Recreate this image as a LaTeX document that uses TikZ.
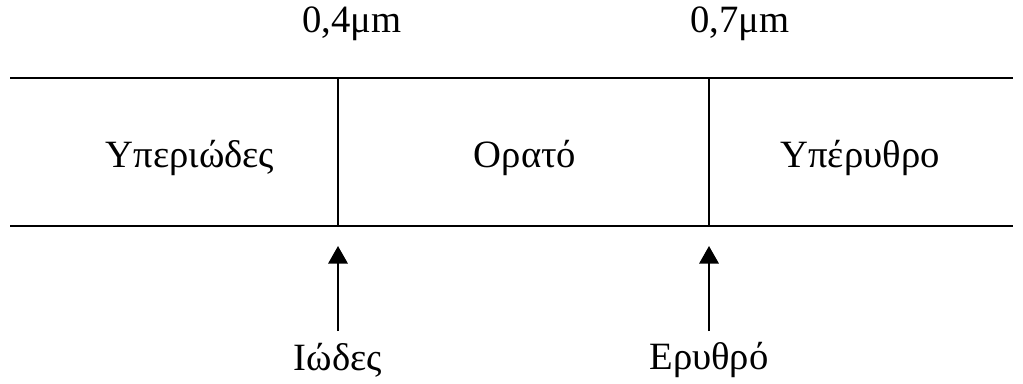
\documentclass[tikz,border=0pt]{standalone}
\usepackage{fontspec}
\setmainfont{Liberation Serif}
\usetikzlibrary{arrows.meta}
\begin{document}
\begin{tikzpicture}[x=0.02cm, y=-0.02cm, every node/.style={font=\fontsize{22}{26}\selectfont, inner sep=0pt}]
  \useasboundingbox (0, 0) rectangle (1023, 383);
  % band edges
  \coordinate (tl) at (10, 78);
  \coordinate (tr) at (1013, 78);
  \coordinate (bl) at (10, 226);
  \coordinate (br) at (1013, 226);
  \draw[line width=1.4pt] (tl) -- (tr);
  \draw[line width=1.4pt] (bl) -- (br);

  % limits of the visible band
  \coordinate (vtop) at (338, 78);
  \coordinate (vbot) at (338, 226);
  \coordinate (rtop) at (709, 78);
  \coordinate (rbot) at (709, 226);
  \draw[line width=1.4pt] (vtop) -- (vbot);
  \draw[line width=1.4pt] (rtop) -- (rbot);

  % wavelengths
  \node (wlv) at (352, 24) {0,4μm};
  \node (wlr) at (740, 24) {0,7μm};

  % regions
  \node (uv) at (190, 158) {Υπεριώδες};
  \node (vis) at (525, 158) {Ορατό};
  \node (ir) at (860, 158) {Υπέρυθρο};

  % colours at the limits
  \node (violet) at (338, 360) {Ιώδες};
  \node (red) at (709, 360) {Ερυθρό};
  \coordinate (vtail) at (338, 331);
  \coordinate (rtail) at (709, 331);
  \coordinate (vtip) at (338, 246);
  \coordinate (rtip) at (709, 246);
  \draw[-{Triangle[length=10pt, width=11pt]}, line width=1.3pt] (vtail) -- (vtip);
  \draw[-{Triangle[length=10pt, width=11pt]}, line width=1.3pt] (rtail) -- (rtip);
\end{tikzpicture}
\end{document}
